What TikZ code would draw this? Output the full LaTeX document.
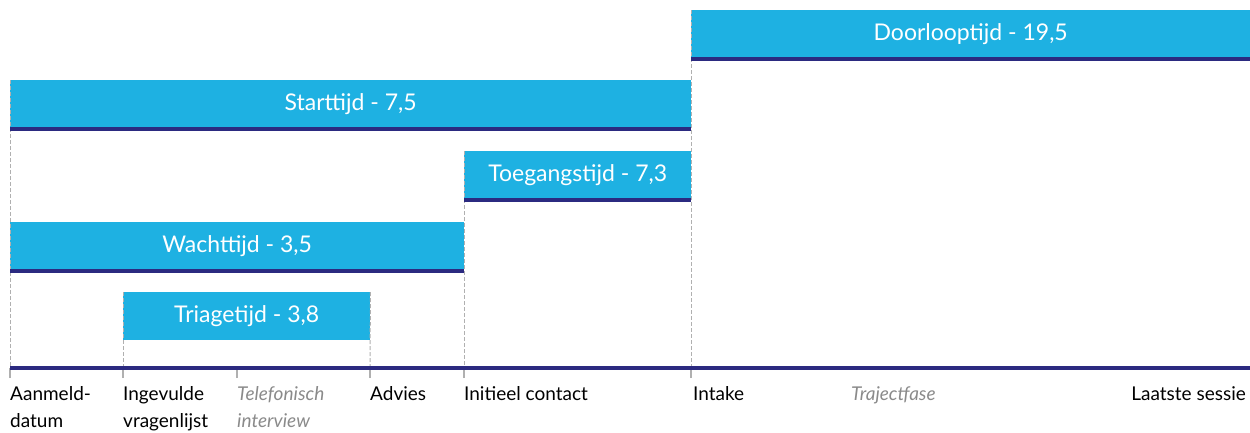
\documentclass[tikz,border=0pt]{standalone}
\usepackage{fontspec}
\setmainfont{Lato}
\definecolor{barblue}{HTML}{1EB1E2}
\definecolor{darkline}{HTML}{2B2A80}
\definecolor{dashgray}{HTML}{B0B0B0}
\definecolor{labgray}{HTML}{8A8A8A}
\begin{document}
\begin{tikzpicture}[x=1pt,y=-1pt,
  bar/.style={fill=barblue, text=white, inner sep=0pt, anchor=north west,
    font=\fontsize{23}{27}\selectfont},
  baseline/.style={draw=darkline, line width=4pt},
  guide/.style={draw=dashgray, line width=1pt, dash pattern=on 4pt off 2pt},
  tick/.style={draw=dashgray, line width=2pt},
  lab/.style={anchor=base west, inner sep=0pt, align=left,
    font=\fontsize{19}{27}\selectfont},
  glab/.style={lab, text=labgray, font=\fontsize{19}{27}\selectfont\itshape}]
\useasboundingbox (0,0) rectangle (1250,432);
% timeline points
\coordinate (tA) at (10,368);
\coordinate (tB) at (123,368);
\coordinate (tC) at (237,368);
\coordinate (tD) at (370,368);
\coordinate (tE) at (464,368);
\coordinate (tF) at (691,368);
\coordinate (tEnd) at (1250,368);
% bars
\node[bar, minimum width=559pt, minimum height=47pt] (door) at (691,10) {Doorlooptijd - 19,5};
\node[bar, minimum width=681pt, minimum height=47pt] (start) at (10,80) {Starttijd - 7,5};
\node[bar, minimum width=227pt, minimum height=47pt] (toeg) at (464,151) {Toegangstijd - 7,3};
\node[bar, minimum width=454pt, minimum height=47pt] (wacht) at (10,222) {Wachttijd - 3,5};
\node[bar, minimum width=247pt, minimum height=48pt] (triage) at (123,292) {Triagetijd - 3,8};
% dashed guides
\draw[guide] (door.north west) -- ([yshift=-9pt]tF);
\draw[guide] (start.north west) -- ([yshift=-9pt]tA);
\draw[guide] (toeg.north west) -- ([yshift=-9pt]tE);
\draw[guide] (triage.north west) -- ([yshift=-9pt]tB);
\draw[guide] (triage.north east) -- ([yshift=-9pt]tD);
% ticks
\foreach \t in {tA,tB,tC,tD,tE,tF}
  \draw[tick] ([yshift=-10pt]\t) -- (\t);
% dark underlines
\draw[baseline] ([yshift=-2pt]door.south west) -- ([yshift=-2pt]door.south east);
\draw[baseline] ([yshift=-2pt]start.south west) -- ([yshift=-2pt]start.south east);
\draw[baseline] ([yshift=-2pt]toeg.south west) -- ([yshift=-2pt]toeg.south east);
\draw[baseline] ([yshift=-2pt]wacht.south west) -- ([yshift=-2pt]wacht.south east);
% timeline
\draw[baseline] (tA) -- (tEnd);
% labels (base anchor = baseline of last line)
\node[lab] (lA) at (10,427) {Aanmeld-\\datum};
\node[lab] (lB) at (123,427) {Ingevulde\\vragenlijst};
\node[glab] (lC) at (237,427) {Telefonisch\\interview};
\node[lab] (lD) at (370,400) {Advies};
\node[lab] (lE) at (464,400) {Initieel contact};
\node[lab] (lF) at (693,400) {Intake};
\node[glab] (lG) at (851,400) {Trajectfase};
\node[lab, anchor=base east] (lH) at (1246,400) {Laatste sessie};
\end{tikzpicture}
\end{document}
